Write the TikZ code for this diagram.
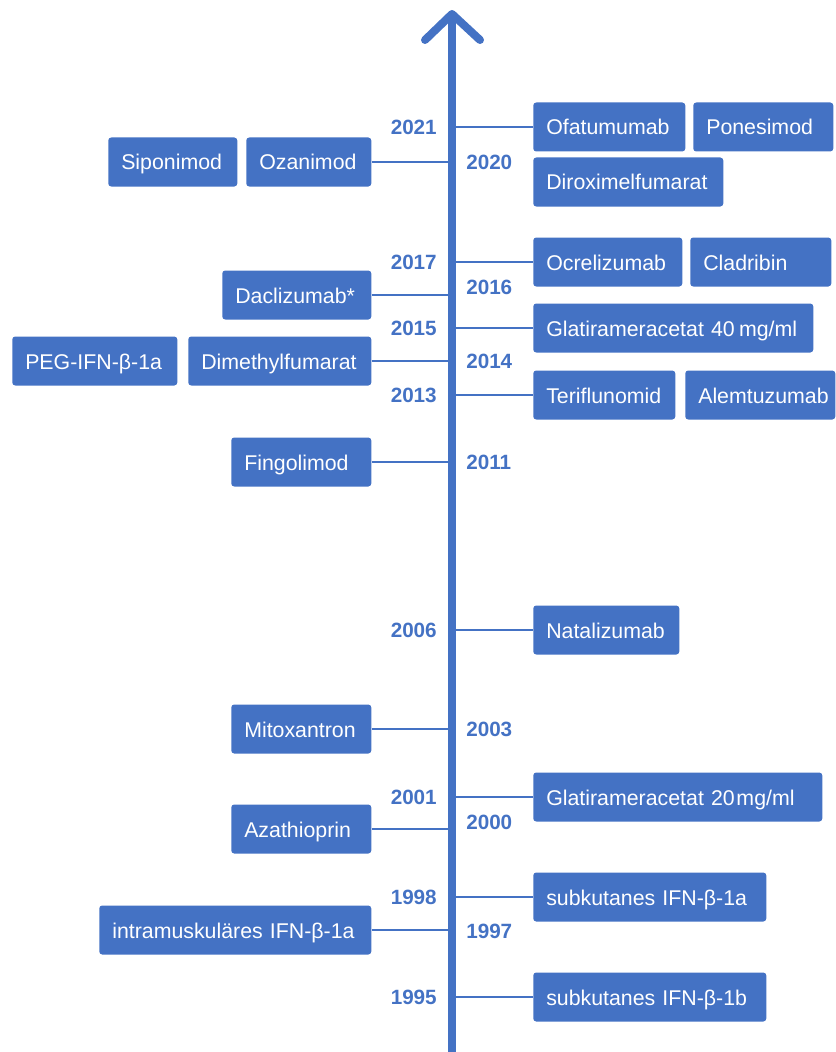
\documentclass[tikz,border=0pt]{standalone}
\usepackage{fontspec}
\setmainfont{Liberation Sans}
\definecolor{msblue}{RGB}{68,114,196}
\tikzset{
	drug/.style={fill=msblue, text=white, rounded corners=2.25pt, anchor=west, minimum height=36.75pt, inner xsep=9.75pt, inner ysep=0pt, align=left, text width=#1, text height=12pt, text depth=0pt, font=\fontsize{16}{19}\selectfont},
	year/.style={text=msblue, font=\bfseries\fontsize{15.5}{18}\selectfont, inner sep=0pt},
	tick/.style={msblue, line width=1.5pt}
}
\begin{document}
\begin{tikzpicture}[x=0.75pt, y=-0.75pt]
				\useasboundingbox (0,0) rectangle (835,1052);
				
				\coordinate (axtop) at (452,14);
				\coordinate (axbot) at (452,1052);
				\coordinate (armleft) at (425,40);
				\coordinate (armright) at (480,40);
				
				\node[drug=94.5pt] (ofa) at (533,127) {Ofatumumab};
				\node[drug=85.5pt] (pone) at (693,127) {Ponesimod};
				\node[drug=123pt] (dirox) at (533,182) {Diroximelfumarat};
				\node[drug=92.25pt] (ocre) at (533,262) {Ocrelizumab};
				\node[drug=86.25pt] (clad) at (690,262) {Cladribin};
				\node[drug=190.5pt] (glat40) at (533,328) {Glatirameracetat 40\hspace{0.2em}mg/ml};
				\node[drug=87pt] (teri) at (533,395) {Teriflunomid};
				\node[drug=93pt] (alem) at (685,395) {Alemtuzumab};
				\node[drug=90pt] (nata) at (533,630) {Natalizumab};
				\node[drug=197.25pt] (glat20) at (533,797) {Glatirameracetat 20\hspace{0.08em}mg/ml};
				\node[drug=155.25pt] (subia) at (533,897) {subkutanes IFN-β-1a};
				\node[drug=155.25pt] (subib) at (533,997) {subkutanes IFN-β-1b};
				
				\node[drug=77.25pt] (sipo) at (108,162) {Siponimod};
				\node[drug=74.25pt] (ozan) at (246,162) {Ozanimod};
				\node[drug=92.25pt] (dacl) at (222,295) {Daclizumab*};
				\node[drug=104.25pt] (peg) at (12,361) {PEG-IFN-β-1a};
				\node[drug=117.75pt] (dime) at (188,361) {Dimethylfumarat};
				\node[drug=85.5pt] (fing) at (231,462) {Fingolimod};
				\node[drug=85.5pt] (mito) at (231,729) {Mitoxantron};
				\node[drug=85.5pt] (azat) at (231,829) {Azathioprin};
				\node[drug=184.5pt] (imifn) at (99,930) {intramuskuläres IFN-β-1a};
				
				\draw[tick] (ofa.west) -- (ofa.west -| axtop);
				\draw[tick] (ocre.west) -- (ocre.west -| axtop);
				\draw[tick] (glat40.west) -- (glat40.west -| axtop);
				\draw[tick] (teri.west) -- (teri.west -| axtop);
				\draw[tick] (nata.west) -- (nata.west -| axtop);
				\draw[tick] (glat20.west) -- (glat20.west -| axtop);
				\draw[tick] (subia.west) -- (subia.west -| axtop);
				\draw[tick] (subib.west) -- (subib.west -| axtop);
				
				\draw[tick] (ozan.east) -- (ozan.east -| axtop);
				\draw[tick] (dacl.east) -- (dacl.east -| axtop);
				\draw[tick] (dime.east) -- (dime.east -| axtop);
				\draw[tick] (fing.east) -- (fing.east -| axtop);
				\draw[tick] (mito.east) -- (mito.east -| axtop);
				\draw[tick] (azat.east) -- (azat.east -| axtop);
				\draw[tick] (imifn.east) -- (imifn.east -| axtop);
				
				\node[year, anchor=east] (y2021) at (437,127) {2021};
				\node[year, anchor=east] (y2017) at (437,262) {2017};
				\node[year, anchor=east] (y2015) at (437,328) {2015};
				\node[year, anchor=east] (y2013) at (437,395) {2013};
				\node[year, anchor=east] (y2006) at (437,630) {2006};
				\node[year, anchor=east] (y2001) at (437,797) {2001};
				\node[year, anchor=east] (y1998) at (437,897) {1998};
				\node[year, anchor=east] (y1995) at (437,997) {1995};
				
				\node[year, anchor=west] (y2020) at (466,162) {2020};
				\node[year, anchor=west] (y2016) at (466,287) {2016};
				\node[year, anchor=west] (y2014) at (466,361) {2014};
				\node[year, anchor=west] (y2011) at (466,462) {2011};
				\node[year, anchor=west] (y2003) at (466,729) {2003};
				\node[year, anchor=west] (y2000) at (466,822) {2000};
				\node[year, anchor=west] (y1997) at (466,931) {1997};
				
				\draw[msblue, line width=6pt] (axbot) -- (axtop);
				\draw[msblue, line width=6pt, line cap=round, line join=round] (armleft) -- (axtop) -- (armright);
\end{tikzpicture}
\end{document}
